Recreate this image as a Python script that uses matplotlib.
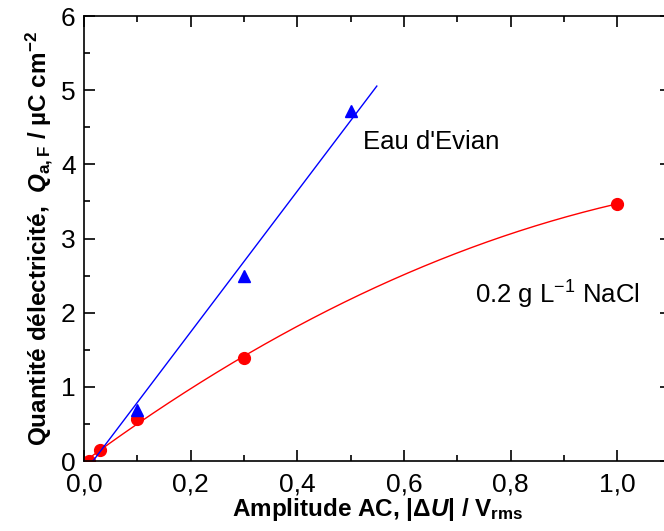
import numpy as np
import matplotlib
matplotlib.use("Agg")
from matplotlib import pyplot as plt
from matplotlib.ticker import MultipleLocator, FuncFormatter

plt.rcParams["font.family"] = ["Liberation Sans", "DejaVu Sans"]
plt.rcParams["mathtext.fontset"] = "custom"
plt.rcParams["mathtext.rm"] = "Liberation Sans:bold"
plt.rcParams["mathtext.it"] = "Liberation Sans:bold:italic"
plt.rcParams["mathtext.bf"] = "Liberation Sans:bold"
plt.rcParams["mathtext.sf"] = "Liberation Sans"

# NaCl 0.2 g/L (red circles)
nacl_x = [0.01, 0.03, 0.1, 0.3, 1.0]
nacl_y = [0.0, 0.15, 0.56, 1.39, 3.47]

# Evian water (blue triangles)
evian_x = [0.1, 0.3, 0.5]
evian_y = [0.69, 2.49, 4.72]

# linear fit drawn for Evian: slope, intercept, x range
evian_fit = [9.5, -0.16]
evian_fit_range = [0.017, 0.549]

x_ticks = [0.0, 0.2, 0.4, 0.6, 0.8, 1.0]
y_ticks = [0, 1, 2, 3, 4, 5, 6]

fig = plt.figure(figsize=(6.64, 5.31), dpi=100)
ax = fig.add_axes([0.1265, 0.1318, 0.8836, 0.838])

# red: quadratic fit through the NaCl points
p = np.polyfit(nacl_x, nacl_y, 2)
xs = np.linspace(min(nacl_x), max(nacl_x), 200)
ax.plot(xs, np.polyval(p, xs), color="red", lw=1)
ax.plot(nacl_x, nacl_y, "o", color="red", ms=8.5, mec="red")

xb = np.linspace(evian_fit_range[0], evian_fit_range[1], 50)
ax.plot(xb, evian_fit[0] * xb + evian_fit[1], color="blue", lw=1)
ax.plot(evian_x, evian_y, "^", color="blue", ms=8)

ax.set_xlim(0, 1.1)
ax.set_ylim(0, 6)
ax.set_xticks(x_ticks)
ax.set_yticks(y_ticks)
ax.xaxis.set_minor_locator(MultipleLocator(0.1))
ax.yaxis.set_minor_locator(MultipleLocator(0.5))
ax.xaxis.set_major_formatter(FuncFormatter(lambda v, pos: f"{v:.1f}".replace(".", ",")))
ax.tick_params(which="both", direction="in", top=True, right=True, labelsize=19, width=1.2)
ax.tick_params(which="major", length=8)
ax.tick_params(which="minor", length=4)
ax.tick_params(axis="x", which="major", pad=8)
ax.tick_params(axis="y", which="major", pad=6)
for s in ax.spines.values():
    s.set_linewidth(1.2)

ax.set_xlabel("Amplitude AC, |Δ$\\mathit{U}$| / V$_{\\mathrm{rms}}$",
              fontsize=17.5, fontweight="bold", labelpad=0)
ax.set_ylabel("Quantité délectricité,  $\\mathit{Q}_{\\mathrm{a,F}}$ / µC cm$^{\\mathrm{-2}}$",
              fontsize=17.5, fontweight="bold", labelpad=4)

ax.text(0.523, 4.30, "Eau d'Evian", fontsize=18.5, va="center")
ax.text(0.733, 2.24, "0.2 g L$^{\\mathsf{-1}}$ NaCl", fontsize=18.5, va="center")

fig.savefig("out.png", dpi=100)
